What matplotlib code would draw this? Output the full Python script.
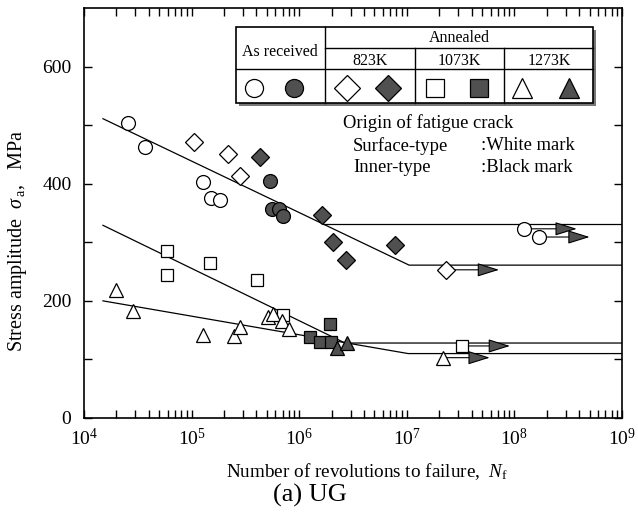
import matplotlib.pyplot as plt
from matplotlib.patches import Rectangle
from matplotlib.ticker import LogLocator, NullFormatter

plt.rcParams['font.family'] = ['Liberation Serif', 'DejaVu Serif']
plt.rcParams['mathtext.fontset'] = 'custom'
plt.rcParams['mathtext.rm'] = 'Liberation Serif'
plt.rcParams['mathtext.it'] = 'Liberation Serif:italic'

# As received (circles)
ar_open_N = [2.58e4, 3.71e4, 1.28e5, 1.51e5, 1.84e5]
ar_open_S = [503, 463, 403, 375, 373]
ar_fill_N = [5.35e5, 5.55e5, 6.53e5, 7.03e5]
ar_fill_S = [405, 356, 357, 345]

# Annealed 823K (diamonds)
a823_open_N = [1.06e5, 2.19e5, 2.82e5]
a823_open_S = [472, 450, 413]
a823_fill_N = [4.28e5, 1.62e6, 2.08e6, 2.72e6, 7.77e6]
a823_fill_S = [445, 346, 300, 270, 295]

# Annealed 1073K (squares)
a1073_open_N = [5.87e4, 5.94e4, 1.48e5, 4.08e5, 7.12e5]
a1073_open_S = [285, 244, 264, 235, 176]
a1073_fill_N = [1.93e6, 1.26e6, 1.56e6, 1.98e6]
a1073_fill_S = [161, 138, 130, 130]

# Annealed 1273K (triangles)
a1273_open_N = [1.98e4, 2.84e4, 1.28e5, 2.49e5, 2.82e5, 5.16e5, 5.67e5, 6.88e5, 8.09e5]
a1273_open_S = [219, 182, 141, 140, 155, 173, 178, 166, 152]
a1273_fill_N = [2.23e6, 2.76e6]
a1273_fill_S = [119, 128]

# run-outs: (N, S, arrow end N)
runout_ar = [(1.23e8, 323, 3.8e8), (1.70e8, 309, 5.0e8)]
runout_823 = [(2.31e7, 253, 7.2e7)]
runout_1073 = [(3.24e7, 123, 9.1e7)]
runout_1273 = [(2.18e7, 103, 5.9e7)]

# S-N curves
curve_823_N = [1.5e4, 1.05e7, 1e9]
curve_823_S = [511, 261, 261]
curve_ar_N = [1.66e6, 1e9]
curve_ar_S = [332, 332]
curve_1073_N = [1.5e4, 2.67e6, 1e9]
curve_1073_S = [329, 128, 128]
curve_1273_N = [1.5e4, 1.03e7, 1e9]
curve_1273_S = [200, 110, 110]

gray = '#505050'

fig = plt.figure(figsize=(6.38, 5.28), dpi=100)
ax = fig.add_axes([84/638, 110/528, 538/638, 410/528])

for N, S in [(curve_823_N, curve_823_S), (curve_ar_N, curve_ar_S),
             (curve_1073_N, curve_1073_S), (curve_1273_N, curve_1273_S)]:
    ax.plot(N, S, color='black', lw=0.9, zorder=1)

def points(N, S, marker, filled, ms):
    ax.plot(N, S, linestyle='none', marker=marker, ms=ms,
            mfc=gray if filled else 'white', mec='black', mew=0.9, zorder=3)

def runouts(rows, marker, ms):
    for n, s, end in rows:
        ax.annotate('', xy=(end, s), xytext=(n, s),
                    arrowprops=dict(arrowstyle='-|>,head_length=0.8,head_width=0.25',
                                    color='black', fc=gray, lw=0.8,
                                    shrinkA=0, shrinkB=0, mutation_scale=17),
                    zorder=2)
        points([n], [s], marker, False, ms)

points(ar_open_N, ar_open_S, 'o', False, 10)
points(ar_fill_N, ar_fill_S, 'o', True, 10)
points(a823_open_N, a823_open_S, 'D', False, 9)
points(a823_fill_N, a823_fill_S, 'D', True, 9)
points(a1073_open_N, a1073_open_S, 's', False, 9)
points(a1073_fill_N, a1073_fill_S, 's', True, 9)
points(a1273_open_N, a1273_open_S, '^', False, 9.5)
points(a1273_fill_N, a1273_fill_S, '^', True, 9.5)
runouts(runout_ar, 'o', 10)
runouts(runout_823, 'D', 9)
runouts(runout_1073, 's', 9)
runouts(runout_1273, '^', 9.5)

ax.set_xscale('log')
ax.set_xlim(1e4, 1e9)
ax.set_ylim(0, 700)
ax.set_yticks([0, 200, 400, 600])
ax.set_yticks([100, 300, 500], minor=True)
ax.xaxis.set_minor_locator(LogLocator(subs=range(2, 10)))
ax.xaxis.set_minor_formatter(NullFormatter())
ax.tick_params(which='both', direction='in', top=True, right=True,
               length=6, width=1, labelsize=14)
ax.tick_params(axis='x', pad=7)
ax.tick_params(axis='y', pad=9)
for sp in ax.spines.values():
    sp.set_linewidth(1.2)

# legend table
tab = fig.add_axes([236/638, 1 - 103/528, 357/638, 76/528])
tab.set_xlim(236, 593)
tab.set_ylim(103, 27)
tab.axis('off')
tab.add_patch(Rectangle((239, 30), 357, 76, fc='#777777', ec='none', clip_on=False))
tab.add_patch(Rectangle((236, 27), 357, 76, fc='white', ec='black', lw=1.2, clip_on=False))
for xs, ys in [([325, 593], [48, 48]), ([236, 593], [69, 69]), ([325, 325], [27, 103]),
               ([415, 415], [48, 103]), ([504, 504], [48, 103])]:
    tab.plot(xs, ys, color='black', lw=1.0, clip_on=False)
tab.text(280, 52, 'As received', ha='center', va='center', fontsize=11.5)
tab.text(459, 38, 'Annealed', ha='center', va='center', fontsize=11.5)
tab.text(370, 61, '823K', ha='center', va='center', fontsize=11.5)
tab.text(459.5, 61, '1073K', ha='center', va='center', fontsize=11.5)
tab.text(549, 61, '1273K', ha='center', va='center', fontsize=11.5)
legend_marks = [(254, 'o', False, 13), (294, 'o', True, 13),
                (347, 'D', False, 13.5), (388, 'D', True, 13.5),
                (435, 's', False, 12.5), (479, 's', True, 12.5),
                (522, '^', False, 14), (569, '^', True, 14)]
for x, m, filled, ms in legend_marks:
    tab.plot([x], [88], marker=m, ms=ms, mfc=gray if filled else 'white',
             mec='black', mew=0.9, clip_on=False)

def ftext(x, y, s, **kw):
    fig.text(x/638, 1 - y/528, s, **kw)

ftext(428, 123, 'Origin of fatigue crack', ha='center', va='center', fontsize=13.4)
ftext(353, 146, 'Surface-type', ha='left', va='center', fontsize=13.4)
ftext(481, 146, ':White mark', ha='left', va='center', fontsize=13.4)
ftext(353, 167, 'Inner-type', ha='left', va='center', fontsize=13.4)
ftext(481, 167, ':Black mark', ha='left', va='center', fontsize=13.4)

ftext(18, 241, r'Stress amplitude  $\sigma_{\,\mathrm{a}}$,   MPa', rotation=90,
      ha='center', va='center', fontsize=14.5)
ftext(367, 472, r'Number of revolutions to failure,  $N_{\mathrm{f}}$',
      ha='center', va='center', fontsize=13.8)
ftext(310, 495, '(a) UG', ha='center', va='center', fontsize=19)

fig.savefig('out.png', dpi=100)
